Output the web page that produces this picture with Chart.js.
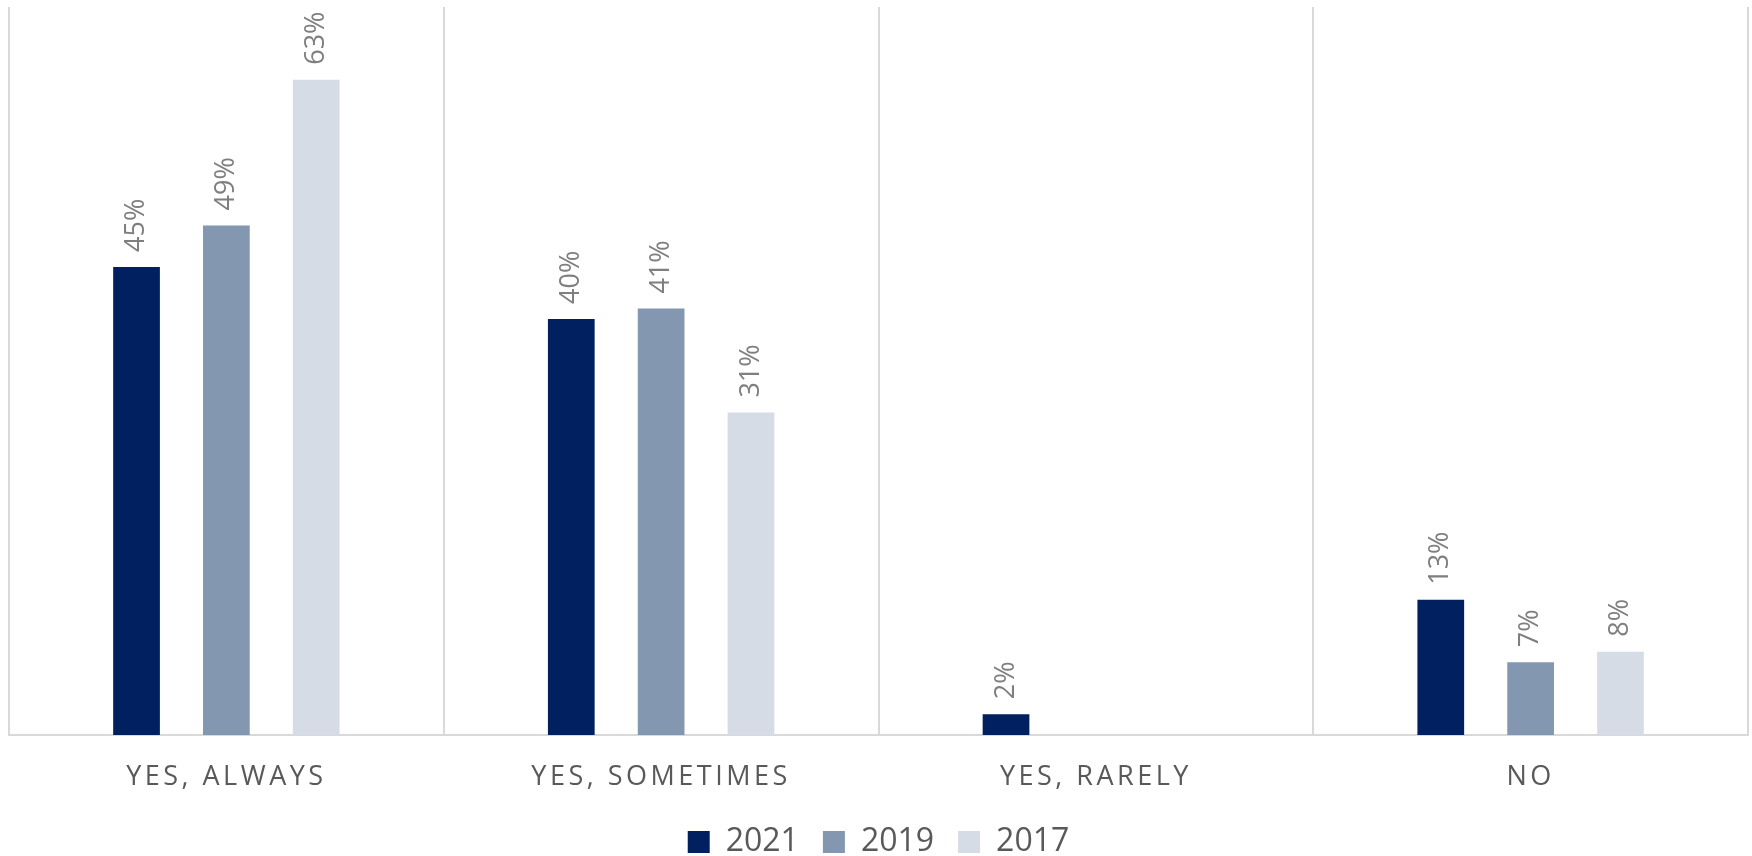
<!DOCTYPE html>
<html>
<head>
<meta charset="utf-8">
<script src="https://cdn.jsdelivr.net/npm/chart.js@4.4.0/dist/chart.umd.min.js"></script>
<style>
  html, body { margin: 0; padding: 0; background: #fff; }
  #wrap { width: 1752px; height: 856px; position: relative; }
</style>
</head>
<body>
<div id="wrap"><canvas id="grafico"></canvas></div>
<script>
// dados
const categorias = ['YES, ALWAYS', 'YES, SOMETIMES', 'YES, RARELY', 'NO'];
const anos = ['2021', '2019', '2017'];
const valores2021 = [45, 40, 2, 13];
const valores2019 = [49, 41, null, 7];
const valores2017 = [63, 31, null, 8];
const cores = ['#002060', '#8497B0', '#D6DCE5'];

// rótulos de valor girados acima de cada barra
const rotulosBarras = {
  id: 'rotulosBarras',
  afterDatasetsDraw(chart) {
    const ctx = chart.ctx;
    chart.data.datasets.forEach((ds, i) => {
      const meta = chart.getDatasetMeta(i);
      meta.data.forEach((bar, j) => {
        const v = ds.data[j];
        if (v === null || v === undefined) return;
        ctx.save();
        ctx.translate(bar.x, bar.y - 15);
        ctx.rotate(-Math.PI / 2);
        ctx.font = '27px "Open Sans"';
        ctx.fillStyle = '#7f7f7f';
        ctx.textAlign = 'left';
        ctx.textBaseline = 'middle';
        ctx.fillText(v + '%', 0, 0);
        ctx.restore();
      });
    });
  }
};

// espaçamento entre letras nos rótulos do eixo x
const espacoLetras = {
  id: 'espacoLetras',
  beforeDraw(chart) {
    const sx = chart.scales.x;
    if (sx._espacado) return;
    const orig = sx.drawLabels.bind(sx);
    sx.drawLabels = function (area) {
      chart.ctx.save();
      chart.ctx.letterSpacing = '3.5px';
      orig(area);
      chart.ctx.restore();
    };
    sx._espacado = true;
  }
};

new Chart(document.getElementById('grafico'), {
  type: 'bar',
  data: {
    labels: categorias,
    datasets: [
      { label: anos[0], data: valores2021, backgroundColor: cores[0] },
      { label: anos[1], data: valores2019, backgroundColor: cores[1] },
      { label: anos[2], data: valores2017, backgroundColor: cores[2] }
    ]
  },
  options: {
    responsive: true,
    maintainAspectRatio: false,
    animation: false,
    categoryPercentage: 0.62,
    barPercentage: 0.52,
    layout: { padding: { top: 7, left: 9, right: 4, bottom: 0 } },
    plugins: {
      tooltip: { enabled: false },
      legend: {
        position: 'bottom',
        maxHeight: 54,
        labels: {
          boxWidth: 22,
          boxHeight: 22,
          padding: 24,
          color: '#595959',
          font: { family: '"Open Sans"', size: 32 }
        }
      }
    },
    scales: {
      x: {
        grid: { offset: true, color: '#d9d9d9', lineWidth: 2, drawTicks: false },
        border: { color: '#d9d9d9', width: 2 },
        ticks: {
          color: '#595959',
          padding: 26,
          maxRotation: 0,
          font: { family: '"Open Sans"', size: 27, lineHeight: 1.2 }
        },
        afterFit(s) { s.height = 67; }
      },
      y: {
        display: false,
        min: 0,
        max: 70
      }
    }
  },
  plugins: [rotulosBarras, espacoLetras]
});
</script>
</body>
</html>
